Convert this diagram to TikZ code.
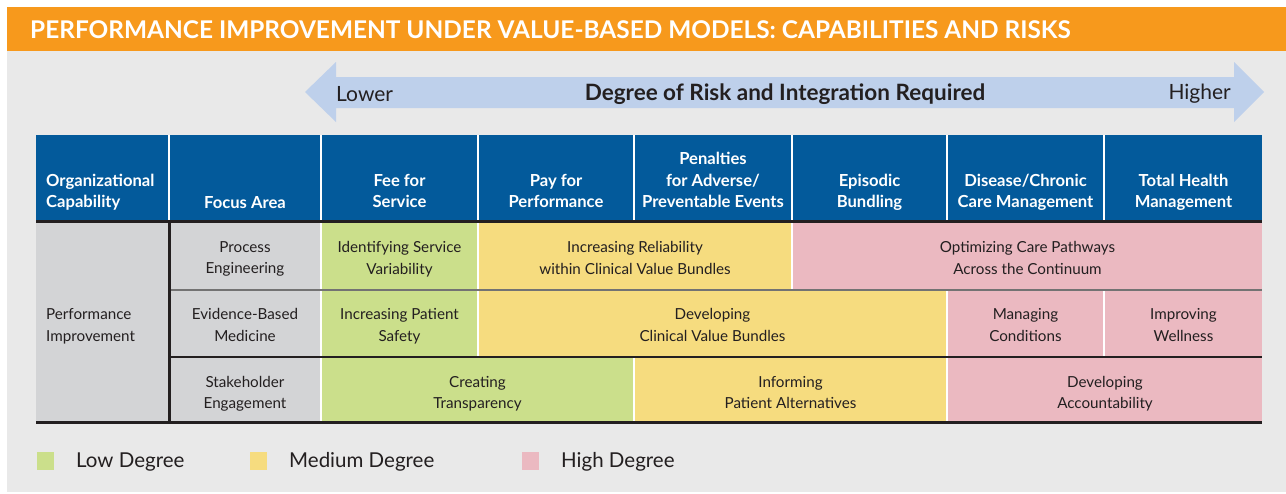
\documentclass[tikz,border=0pt]{standalone}
\usepackage{fontspec}
\setmainfont{Lato}
\definecolor{orng}{HTML}{F7991C}
\definecolor{panel}{HTML}{E9E9E9}
\definecolor{arrowblue}{HTML}{BED0EB}
\definecolor{headblue}{HTML}{035A9B}
\definecolor{cellgray}{HTML}{D3D4D6}
\definecolor{lowc}{HTML}{CBDF8B}
\definecolor{medc}{HTML}{F6DC7F}
\definecolor{highc}{HTML}{EBB9C1}
\definecolor{ink}{HTML}{231F20}
\begin{document}
\begin{tikzpicture}[x=1pt,y=-1pt,
  bodytxt/.style={font=\fontsize{15.2}{21.5}\selectfont, text=ink, align=center, inner sep=0pt,
    execute at begin node=\strut, execute at end node=\strut},
  headtxt/.style={font=\bfseries\fontsize{16.6}{21.5}\selectfont, text=white, align=center, inner sep=0pt,
    execute at begin node=\strut, execute at end node=\strut},
  arrowtxt/.style={font=\fontsize{21}{24}\selectfont, text=ink, inner sep=0pt},
  legtxt/.style={font=\fontsize{20.5}{24}\selectfont, text=ink, inner sep=0pt, anchor=west},
  titletxt/.style={font=\bfseries\fontsize{24.4}{28}\selectfont, text=white, inner sep=0pt, anchor=west},
  rule/.style={ink, line width=3pt},
]
\useasboundingbox (0,0) rectangle (1286,493);
\fill[white] (0,0) rectangle (1286,493);
\fill[panel] (7,51) rectangle (1286,492);
\fill[orng] (7,7) rectangle (1286,51);
\node[titletxt] (title) at (30,30) {PERFORMANCE IMPROVEMENT UNDER VALUE-BASED MODELS: CAPABILITIES AND RISKS};

% arrow
\fill[arrowblue] (305,92) -- (336,62) -- (336,77) -- (1234,77) -- (1234,62) -- (1264,92)
  -- (1234,122) -- (1234,108) -- (336,108) -- (336,122) -- cycle;
\node[arrowtxt, anchor=west] (lower) at (336,94) {Lower};
\node[arrowtxt, font=\bfseries\fontsize{22.5}{26}\selectfont] (degree) at (785,94) {Degree of Risk and Integration Required};
\node[arrowtxt, anchor=east] (higher) at (1231,94) {Higher};

% table white backing
\fill[white] (36,135) rectangle (1262,421);

% header cells
\foreach \a/\b in {36/168,170/320,322/477,479/633,635/791,793/946,948/1103,1105/1262}
  \fill[headblue] (\a,135) rectangle (\b,220);

\node[headtxt, align=left, anchor=west] (hcap) at (46,194) {Organizational\\Capability};
\node[headtxt] (hfocus) at (245,204.5) {Focus Area};
\node[headtxt] (hffs) at (399.5,194) {Fee for\\Service};
\node[headtxt] (hp4p) at (556,194) {Pay for\\Performance};
\node[headtxt] (hpen) at (713,183.5) {Penalties\\for Adverse/\\Preventable Events};
\node[headtxt] (hepi) at (869.5,194) {Episodic\\Bundling};
\node[headtxt] (hdis) at (1025.5,194) {Disease/Chronic\\Care Management};
\node[headtxt] (htot) at (1183.5,194) {Total Health\\Management};

% body gray columns
\fill[cellgray] (36,222) rectangle (169,421);
\fill[cellgray] (169,222) rectangle (320,421);

% row 1
\fill[lowc] (322,222) rectangle (477,290);
\fill[medc] (479,222) rectangle (791,290);
\fill[highc] (793,222) rectangle (1262,290);
% row 2
\fill[lowc] (322,290) rectangle (477,357);
\fill[medc] (479,290) rectangle (946,357);
\fill[highc] (948,290) rectangle (1103,357);
\fill[highc] (1105,290) rectangle (1262,357);
% row 3
\fill[lowc] (322,357) rectangle (633,421);
\fill[medc] (635,357) rectangle (946,421);
\fill[highc] (948,357) rectangle (1262,421);

% rules
\draw[black!55, line width=2pt] (170,290) -- (1262,290);
\draw[ink, line width=1.2pt] (170,357) -- (1262,357);
\draw[ink, line width=3pt] (169.5,222) -- (169.5,421);
\draw[rule] (36,221.5) -- (1262,221.5);
\draw[rule] (36,422.5) -- (1262,422.5);

% body text
\node[bodytxt, align=left, anchor=west] (perf) at (46,328) {Performance\\Improvement};
\node[bodytxt] (proc) at (245,261) {Process\\Engineering};
\node[bodytxt] (ebm) at (245,328) {Evidence-Based\\Medicine};
\node[bodytxt] (stake) at (245,395.5) {Stakeholder\\Engagement};

\node[bodytxt] (isv) at (399.5,261) {Identifying Service\\Variability};
\node[bodytxt] (irel) at (635,261) {Increasing Reliability\\within Clinical Value Bundles};
\node[bodytxt] (ocp) at (1027.5,261) {Optimizing Care Pathways\\Across the Continuum};

\node[bodytxt] (ips) at (399.5,328) {Increasing Patient\\Safety};
\node[bodytxt] (dcvb) at (712.5,328) {Developing\\Clinical Value Bundles};
\node[bodytxt] (mc) at (1025.5,328) {Managing\\Conditions};
\node[bodytxt] (iw) at (1183.5,328) {Improving\\Wellness};

\node[bodytxt] (ct) at (477.5,395.5) {Creating\\Transparency};
\node[bodytxt] (ipa) at (790.5,395.5) {Informing\\Patient Alternatives};
\node[bodytxt] (da) at (1105,395.5) {Developing\\Accountability};

% legend
\fill[lowc] (37,452) rectangle (54,470);
\fill[medc] (250,452) rectangle (267,470);
\fill[highc] (522,452) rectangle (539,470);
\node[legtxt] (llow) at (76,462) {Low Degree};
\node[legtxt] (lmed) at (289,462) {Medium Degree};
\node[legtxt] (lhigh) at (561,462) {High Degree};
\end{tikzpicture}
\end{document}
